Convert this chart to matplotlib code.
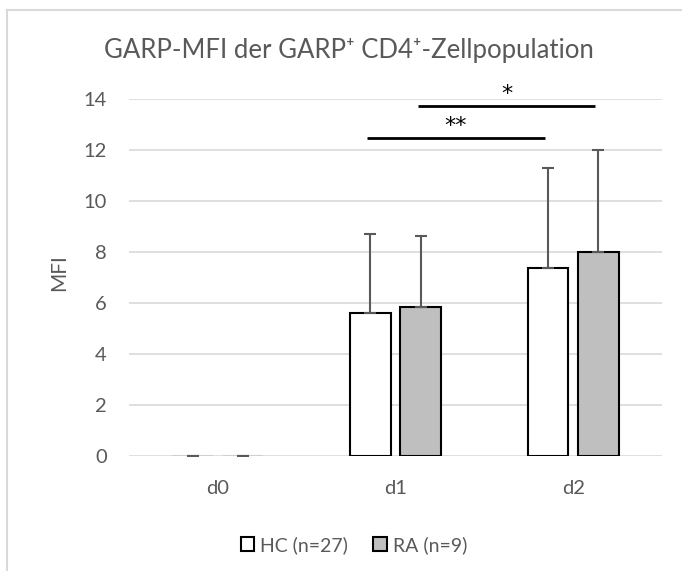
import numpy as np
import matplotlib.pyplot as plt
from matplotlib.lines import Line2D
from matplotlib.patches import Patch

plt.rcParams['font.family'] = ['Lato', 'DejaVu Sans']

days = ['d0', 'd1', 'd2']
hc_mean = [0.0, 5.62, 7.37]
hc_sd = [0.0, 3.08, 3.92]
ra_mean = [0.0, 5.84, 8.0]
ra_sd = [0.0, 2.79, 4.0]
labels = ['HC (n=27)', 'RA (n=9)']

# significance brackets: (x start, x end, y, text)
sig = [(0.84, 1.84, 12.47, '**'), (1.125, 2.125, 13.73, '*')]

grey = '#595959'

fig = plt.figure(figsize=(6.82, 5.71), dpi=100)
ax = fig.add_axes([129 / 682, 1 - 456 / 571, 533 / 682, 357 / 571])

x = np.arange(len(days))
w = 0.23
off = 0.142
err_kw = dict(ecolor=grey, elinewidth=1.5, capsize=4.3, capthick=1.5)
edges_hc = ['black' if v > 0 else '#d0d0d0' for v in hc_mean]
edges_ra = ['black' if v > 0 else '#d0d0d0' for v in ra_mean]
ax.bar(x - off, hc_mean, w, color='white', edgecolor=edges_hc, linewidth=1.5,
       yerr=[np.zeros(3), hc_sd], error_kw=err_kw, zorder=3)
ax.bar(x + off, ra_mean, w, color='#bfbfbf', edgecolor=edges_ra, linewidth=1.5,
       yerr=[np.zeros(3), ra_sd], error_kw=err_kw, zorder=3)

for x0, x1, y, t in sig:
    ax.plot([x0, x1], [y, y], color='black', lw=2, solid_capstyle='butt',
            zorder=4, clip_on=False)
    ax.text((x0 + x1) / 2, y + 0.25, t, ha='center', va='baseline',
            fontsize=16, family=['DejaVu Sans'])

ax.set_xlim(-0.5, 2.5)
ax.set_ylim(0, 14)
ax.set_yticks(range(0, 15, 2))
ax.set_xticks(x)
ax.set_xticklabels(days)
ax.tick_params(length=0, labelsize=14.5, labelcolor=grey)
ax.tick_params(axis='x', pad=17)
ax.tick_params(axis='y', pad=16)
ax.grid(axis='y', color='#d9d9d9', lw=1.2, zorder=0)
for s in ax.spines.values():
    s.set_visible(False)

# y axis title
fig.text(59 / 682, 1 - 273 / 571, 'MFI', rotation=90, ha='center', va='center',
         fontsize=15, color=grey)

fig.text(0.5 + 8 / 682, 1 - 58 / 571, 'GARP-MFI der GARP⁺ CD4⁺-Zellpopulation',
         ha='center', va='baseline', fontsize=18.5, color=grey)

handles = [Patch(facecolor='white', edgecolor='black', lw=1.5),
           Patch(facecolor='#bfbfbf', edgecolor='black', lw=1.5)]
leg = fig.legend(handles, labels, loc='center', bbox_to_anchor=(354 / 682, 1 - 545 / 571),
                 ncol=2, frameon=False, fontsize=14, handlelength=0.7,
                 handleheight=0.7, handletextpad=0.3, columnspacing=1.3,
                 borderpad=0)
for t in leg.get_texts():
    t.set_color(grey)

# chart area border
fig.add_artist(Line2D([7 / 682, 7 / 682], [0, 1 - 10 / 571], color='#d9d9d9', lw=1.5))
fig.add_artist(Line2D([7 / 682, 1], [1 - 10 / 571, 1 - 10 / 571], color='#d9d9d9', lw=1.5))

fig.savefig('out.png', dpi=100)
